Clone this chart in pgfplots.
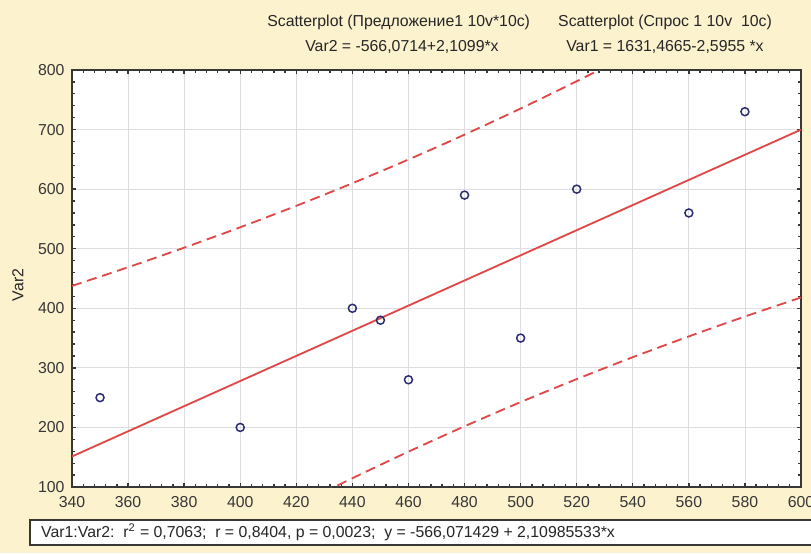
\documentclass[border=0pt]{standalone}
\usepackage{fontspec}
\setmainfont{Liberation Sans}
\usepackage{pgfplots}
\pgfplotsset{compat=1.18}
\definecolor{bgcream}{RGB}{252,242,206}
\definecolor{fitred}{RGB}{224,72,72}
\definecolor{ptnavy}{RGB}{45,45,115}
\definecolor{axisdark}{RGB}{55,55,55}
\definecolor{gridgray}{RGB}{222,222,226}
\begin{document}
\begin{tikzpicture}
\fill[bgcream] (-43.2pt,-39.6pt) rectangle (443.4pt,292.2pt);
\begin{axis}[
  at={(0pt,0pt)}, anchor=south west,
  scale only axis, width=437.4pt, height=250.2pt,
  xmin=340, xmax=600, ymin=100, ymax=800,
  xtick={340,360,...,600}, ytick={100,200,...,800},
  minor x tick num=4, minor y tick num=4,
  tick align=inside,
  major tick length=2.6pt, minor tick length=1.6pt,
  every tick/.style={axisdark, line width=0.8pt},
  axis line style={axisdark, line width=1.1pt},
  grid=major,
  major grid style={gridgray, line width=0.5pt},
  axis background/.style={fill=white},
  /pgf/number format/assume math mode=true,
  /pgf/number format/1000 sep={},
  tick label style={font=\fontsize{9.5}{11}\selectfont, text=axisdark},
  xticklabel style={yshift=-2pt},
  yticklabel style={xshift=-1pt},
]
% prediction band (95%) upper
\addplot[fitred, line width=1.1pt, dash pattern=on 6pt off 3.5pt, smooth] coordinates {
(340,437.6) (360,468.9) (380,501.7) (400,536.0) (420,572.0) (440,609.9) (460,649.7)
(480,691.5) (500,735.3) (520,781.1) (540,828.7) (560,878.1) (580,929.2) (600,981.7)};
% lower
\addplot[fitred, line width=1.1pt, dash pattern=on 6pt off 3.5pt, smooth] coordinates {
(340,-135.0) (360,-82.0) (380,-30.3) (400,19.8) (420,68.2) (440,114.7) (460,159.3)
(480,201.9) (500,242.5) (520,281.1) (540,317.9) (560,352.8) (580,386.2) (600,418.1)};
% regression line
\addplot[fitred, line width=1.1pt] coordinates {(340,151.29) (600,699.87)};
% data points
\addplot[only marks, mark=o, mark size=2.4pt, ptnavy, line width=0.9pt] coordinates {
(350,250) (400,200) (440,400) (450,380) (460,280) (480,590) (500,350) (520,600) (560,560) (580,730)};
\end{axis}
\node[font=\fontsize{9.5}{11}\selectfont, text=black!85] at (196pt,279pt) {Scatterplot (Предложение1 10v*10c)};
\node[font=\fontsize{9.5}{11}\selectfont, text=black!85] at (198pt,264pt) {Var2 = -566,0714+2,1099*x};
\node[font=\fontsize{9.5}{11}\selectfont, text=black!85] at (355.8pt,279pt) {Scatterplot (Спрос 1 10v\ \ 10c)};
\node[font=\fontsize{9.5}{11}\selectfont, text=black!85] at (355.8pt,264pt) {Var1 = 1631,4665-2,5955 *x};
\node[font=\fontsize{9.5}{11}\selectfont, text=black!85, rotate=90] at (-32.4pt,121.2pt) {Var2};
\draw[fill=white, draw=axisdark, line width=1pt] (-25.2pt,-34.8pt) rectangle (446pt,-19.8pt);
\node[font=\fontsize{9.5}{11}\selectfont, text=black!85, anchor=west] at (-22pt,-27.3pt) {Var1:Var2:\ \ r\textsuperscript{2} = 0,7063;\ \ r = 0,8404, p = 0,0023;\ \ y = -566,071429 + 2,10985533*x};
\pgfresetboundingbox
\path (-43.2pt,-39.6pt) rectangle (443.4pt,292.2pt);
\end{tikzpicture}
\end{document}
